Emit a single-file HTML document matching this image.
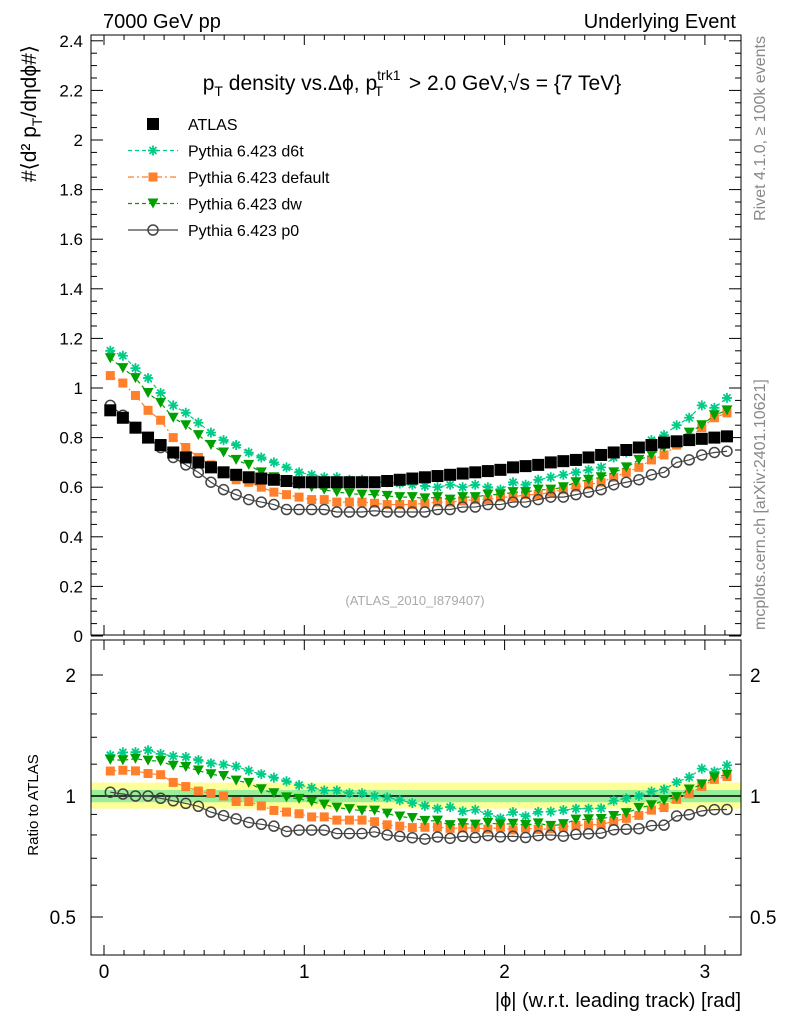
<!DOCTYPE html>
<html><head><meta charset="utf-8"><style>
body{margin:0;background:#fff}
svg{font-family:"Liberation Sans",sans-serif}
</style></head><body>
<svg id="c" width="786" height="1024" xmlns="http://www.w3.org/2000/svg">
<text x="103" y="28" font-size="20">7000 GeV pp</text>
<text x="736" y="28" font-size="20" text-anchor="end">Underlying Event</text>
<text transform="translate(765,36) rotate(-90)" font-size="16" fill="#888" text-anchor="end">Rivet 4.1.0, ≥ 100k events</text>
<text transform="translate(765,630) rotate(-90)" font-size="16" fill="#888">mcplots.cern.ch [arXiv:2401.10621]</text>
<text x="412" y="90" font-size="21" text-anchor="middle">p<tspan font-size="14" dy="6">T</tspan><tspan dy="-6"> density vs.Δϕ, p</tspan><tspan font-size="14" dy="-10">trk1</tspan><tspan font-size="14" dx="-26" dy="16">T</tspan><tspan dx="20" dy="-6"> &gt; 2.0 GeV,√s = {7 TeV}</tspan></text>
<text transform="translate(36,45) rotate(-90)" font-size="21" text-anchor="end">#⟨d² p<tspan font-size="14" dy="6">T</tspan><tspan dy="-6">/dηdϕ#⟩</tspan></text>
<text transform="translate(38,805) rotate(-90)" font-size="15" text-anchor="middle">Ratio to ATLAS</text>
<text x="741" y="1007" font-size="20" text-anchor="end">|ϕ| (w.r.t. leading track) [rad]</text>
<text x="415" y="605" font-size="13" fill="#aaa" text-anchor="middle">(ATLAS_2010_I879407)</text>
<g id="g"></g>
</svg>
<script>
const atlas=[0.91,0.88,0.84,0.80,0.77,0.74,0.72,0.70,0.68,0.66,0.65,0.64,0.635,0.63,0.625,0.62,0.62,0.62,0.62,0.62,0.62,0.62,0.625,0.63,0.635,0.64,0.645,0.65,0.655,0.66,0.665,0.67,0.68,0.685,0.69,0.70,0.705,0.71,0.72,0.73,0.74,0.75,0.76,0.77,0.78,0.785,0.79,0.795,0.80,0.805];
const d6t=[1.15,1.13,1.08,1.04,0.98,0.93,0.90,0.86,0.82,0.79,0.77,0.74,0.72,0.70,0.68,0.66,0.65,0.64,0.64,0.63,0.63,0.62,0.62,0.615,0.61,0.605,0.60,0.61,0.60,0.61,0.60,0.59,0.62,0.61,0.63,0.64,0.65,0.66,0.67,0.68,0.72,0.74,0.76,0.79,0.81,0.85,0.88,0.93,0.92,0.96];
const def=[1.05,1.02,0.97,0.91,0.87,0.80,0.76,0.72,0.69,0.66,0.63,0.62,0.60,0.58,0.57,0.56,0.55,0.55,0.54,0.54,0.54,0.535,0.53,0.53,0.53,0.535,0.54,0.54,0.545,0.55,0.55,0.56,0.56,0.57,0.57,0.58,0.59,0.60,0.61,0.62,0.64,0.66,0.68,0.71,0.73,0.77,0.80,0.84,0.88,0.90];
const dw=[1.12,1.08,1.04,0.98,0.94,0.88,0.85,0.81,0.77,0.74,0.71,0.69,0.66,0.64,0.62,0.61,0.60,0.59,0.58,0.575,0.57,0.57,0.565,0.56,0.56,0.555,0.56,0.55,0.56,0.56,0.57,0.57,0.58,0.58,0.59,0.59,0.60,0.62,0.63,0.64,0.66,0.68,0.71,0.73,0.76,0.78,0.82,0.85,0.89,0.91];
const p0=[0.93,0.89,0.84,0.80,0.76,0.72,0.69,0.66,0.62,0.59,0.57,0.55,0.54,0.53,0.51,0.51,0.51,0.51,0.50,0.50,0.50,0.505,0.50,0.50,0.50,0.50,0.51,0.51,0.52,0.52,0.53,0.53,0.54,0.54,0.55,0.56,0.56,0.57,0.58,0.59,0.61,0.62,0.63,0.65,0.66,0.70,0.71,0.73,0.74,0.745];
const xTicks=[0,1,2,3];
const yTicks=[0,0.2,0.4,0.6,0.8,1,1.2,1.4,1.6,1.8,2,2.2,2.4];
const rTicks=[0.5,1,2];
const NS="http://www.w3.org/2000/svg";
const g=document.getElementById('g');
const L=91,R=741,T=35,B=635,RT=640,RB=955;
const X=v=>104+v*200.3;
const Y=v=>636-v*248;
const RY=v=>796-Math.log2(v)*121;
const xc=i=>(i+0.5)*Math.PI/atlas.length;
function el(t,a){const e=document.createElementNS(NS,t);for(const k in a)e.setAttribute(k,a[k]);g.appendChild(e);return e;}
let b1=el('rect',{x:L,y:RY(1.08),width:R-L,height:RY(0.93)-RY(1.08),fill:'#ffff99'});

let b2=el('rect',{x:L,y:RY(1.035),width:R-L,height:RY(0.965)-RY(1.035),fill:'#99ee99'});

let rl=el('line',{x1:L,x2:R,y1:RY(1),y2:RY(1),stroke:'#000','stroke-width':1.5});

for(const [t,b,n] of [[T,B,'main-frame'],[RT,RB,'ratio-frame']]){
 const f=el('rect',{x:L,y:t,width:R-L,height:b-t,fill:'none',stroke:'#000','stroke-width':1});
 
 for(let v=0;v<=3.15;v+=0.1){const big=Math.abs(v-Math.round(v))<1e-6;const h=big?10:5;
  el('line',{x1:X(v),x2:X(v),y1:b,y2:b-h,stroke:'#000'});el('line',{x1:X(v),x2:X(v),y1:t,y2:t+h,stroke:'#000'});}
}
xTicks.forEach(v=>{const t=el('text',{x:X(v),y:978,'font-size':19,'text-anchor':'middle'});t.textContent=v;
 });
for(let v=0;v<=2.41;v+=0.05){const big=Math.abs(v*5-Math.round(v*5))<1e-6;const h=big?12:6;
 el('line',{x1:L,x2:L+h,y1:Y(v),y2:Y(v),stroke:'#000'});el('line',{x1:R,x2:R-h,y1:Y(v),y2:Y(v),stroke:'#000'});}
yTicks.forEach(v=>{const t=el('text',{x:83,y:Y(v)+6,'font-size':17,'text-anchor':'end'});t.textContent=v;
 });
[0.5,0.6,0.7,0.8,0.9,1,1.2,1.4,1.6,1.8,2].forEach(v=>{const big=rTicks.includes(v);const h=big?12:6;
 el('line',{x1:L,x2:L+h,y1:RY(v),y2:RY(v),stroke:'#000'});el('line',{x1:R,x2:R-h,y1:RY(v),y2:RY(v),stroke:'#000'});});
rTicks.forEach(v=>{for(const [x,a] of [[76,'end'],[750,'start']]){const t=el('text',{x:x,y:RY(v)+7,'font-size':19,'text-anchor':a});t.textContent=v;
 }});
function marker(kind,x,y,c){
 if(kind==='sq'){return el('rect',{x:x-6,y:y-6,width:12,height:12,fill:c});}
 if(kind==='osq'){return el('rect',{x:x-4.5,y:y-4.5,width:9,height:9,fill:c});}
 if(kind==='tri'){return el('path',{d:`M${x-5.5},${y-5}L${x+5.5},${y-5}L${x},${y+5}Z`,fill:c});}
 if(kind==='circ'){return el('circle',{cx:x,cy:y,r:5,fill:'none',stroke:c,'stroke-width':1.5});}
 if(kind==='star'){return el('path',{d:`M${x-5},${y}h10M${x},${y-5}v10M${x-3.5},${y-3.5}l7,7M${x+3.5},${y-3.5}l-7,7`,stroke:c,'stroke-width':1.8});}
}
const series=[
 {d:d6t,c:'#00cc88',m:'star',dash:'4,3',n:'d6t'},
 {d:def,c:'#ff7f2a',m:'osq',dash:'6,3,2,3',n:'default'},
 {d:dw,c:'#00a000',m:'tri',dash:'4,3',n:'dw'},
 {d:p0,c:'#444',m:'circ',dash:'',n:'p0'}];
series.forEach(s=>{
 const pts=s.d.map((v,i)=>X(xc(i))+','+Y(v)).join(' ');
 const pl=el('polyline',{points:pts,fill:'none',stroke:s.c,'stroke-width':1.2,'stroke-dasharray':s.dash});
 
 const rp=s.d.map((v,i)=>X(xc(i))+','+RY(v/atlas[i])).join(' ');
 const rl2=el('polyline',{points:rp,fill:'none',stroke:s.c,'stroke-width':1.2,'stroke-dasharray':s.dash});
 
 s.d.forEach((v,i)=>{const m=marker(s.m,X(xc(i)),Y(v),s.c);
  
  const r=marker(s.m,X(xc(i)),RY(v/atlas[i]),s.c);
  });
});
atlas.forEach((v,i)=>{const m=marker('sq',X(xc(i)),Y(v),'#000');
 });
const leg=[{m:'sq',c:'#000',t:'ATLAS',dash:null},...series.map(s=>({m:s.m,c:s.c,t:'Pythia 6.423 '+s.n,dash:s.dash}))];
leg.forEach((e,i)=>{const y=124+i*26.5;
 if(e.dash!==null){const l=el('line',{x1:128,x2:178,y1:y,y2:y,stroke:e.c,'stroke-width':1.2,'stroke-dasharray':e.dash});
  }
 const m=marker(e.m,153,y,e.c);
 const t=el('text',{x:188,y:y+6,'font-size':16});t.textContent=e.t;
 });
</script>
</body></html>
